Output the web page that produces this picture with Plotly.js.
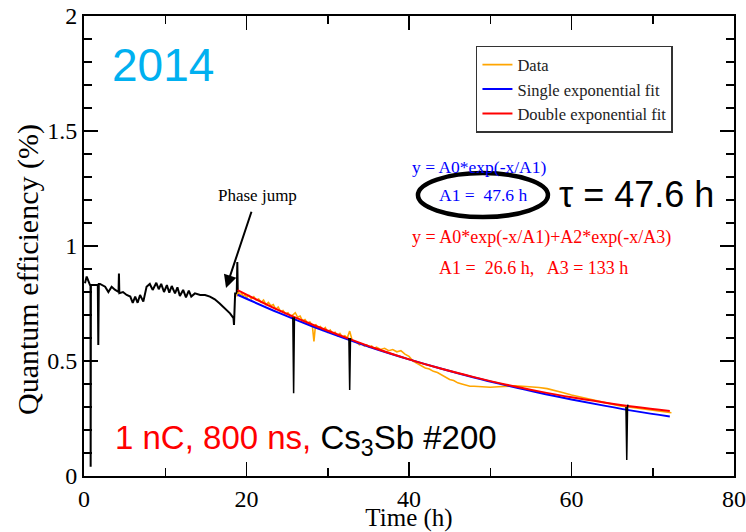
<!DOCTYPE html>
<html>
<head>
<meta charset="utf-8">
<script src="https://cdn.plot.ly/plotly-3.0.1.min.js"></script>
<style>html,body{margin:0;padding:0;background:#fff}#chart{width:746px;height:532px}</style>
</head>
<body>
<div id="chart"></div>
<script>
// Pre-jump data (black)
const preX = [0.12,0.33,0.74,0.8,0.82,0.85,1.15,1.7,1.76,1.82,1.97,2.6,3.0,3.4,3.8,4.25,4.3,4.35,4.8,5.25,5.7,6.0,6.3,6.6,6.9,7.3,7.7,8.1,8.45,8.9,9.2,9.5,9.85,10.2,10.5,10.8,11.2,11.5,11.8,12.2,12.55,12.9,13.2,13.65,14.3,14.9,15.5,16.1,16.7,17.35,17.97,18.4,18.46,18.6,18.8,18.87,18.93];
const preY = [0.838,0.867,0.83,0.83,0.04,0.83,0.83,0.83,0.57,0.835,0.835,0.823,0.80,0.823,0.81,0.80,0.88,0.795,0.80,0.787,0.78,0.753,0.78,0.753,0.787,0.758,0.823,0.835,0.809,0.84,0.812,0.835,0.80,0.83,0.797,0.826,0.794,0.82,0.783,0.809,0.777,0.806,0.78,0.794,0.787,0.787,0.78,0.768,0.75,0.729,0.707,0.686,0.657,0.794,0.794,0.93,0.79];

// Black dropout spikes during the fitted period
const spikeX = [25.7,25.8,25.9,null,32.6,32.7,32.8,null,66.7,66.8,66.9,66.95];
const spikeY = [0.69,0.36,0.69,null,0.60,0.374,0.60,null,0.30,0.07,0.30,0.31];

// Data (orange)
const dataX = [18.8,19.0,19.2,19.4,19.6,19.8,20.0,20.3,20.6,20.9,21.2,21.5,21.8,22.1,22.4,22.7,23.0,23.3,23.6,23.9,24.2,24.5,24.8,25.1,25.4,25.7,26.0,26.3,26.6,26.9,27.2,27.5,27.8,28.1,28.3,28.5,28.8,29.1,29.4,29.7,30.0,30.3,30.6,30.9,31.2,31.5,31.8,32.1,32.4,32.7,33.0,33.3,33.6,33.9,34.2,34.5,34.8,35.1,35.4,35.7,36.0,36.5,37.0,37.5,38.0,38.5,39.0,39.5,40.0,40.5,41.0,41.5,42.0,42.5,43.0,43.5,44.0,44.5,45.0,45.5,46.0,46.5,47.0,47.5,48.0,49,50,51,52,53,54,55,56,57,58,59,60,61,62,63,64,65,66,67,68,69,70,71,72.3];
const dataY = [0.78,0.80,0.785,0.795,0.78,0.79,0.775,0.785,0.77,0.78,0.765,0.77,0.755,0.765,0.745,0.755,0.74,0.745,0.725,0.735,0.715,0.72,0.705,0.71,0.695,0.70,0.71,0.69,0.695,0.675,0.68,0.665,0.67,0.655,0.585,0.66,0.645,0.65,0.635,0.645,0.625,0.635,0.62,0.625,0.61,0.62,0.605,0.61,0.60,0.63,0.59,0.585,0.58,0.57,0.575,0.565,0.57,0.56,0.565,0.555,0.56,0.55,0.555,0.545,0.55,0.54,0.545,0.53,0.52,0.50,0.49,0.48,0.47,0.465,0.455,0.45,0.44,0.43,0.42,0.415,0.405,0.40,0.395,0.39,0.39,0.387,0.386,0.388,0.39,0.392,0.39,0.388,0.385,0.38,0.372,0.362,0.352,0.345,0.336,0.328,0.32,0.312,0.305,0.30,0.295,0.29,0.284,0.279,0.275];

// Single exponential fit (blue)
const singleX = [18.9,24,28,32,36,40,44,48,52,56,60,64,68,72.1];
const singleY = [0.788,0.709,0.652,0.600,0.551,0.507,0.466,0.428,0.394,0.362,0.333,0.306,0.281,0.259];

// Double exponential fit (red)
const doubleX = [18.9,24,28,32,36,40,44,48,52,56,60,64,68,72.1];
const doubleY = [0.808,0.72,0.66,0.605,0.553,0.507,0.466,0.430,0.397,0.368,0.342,0.320,0.300,0.283];

const xTicks = [0,20,40,60,80];
const yTicks = [0,0.5,1,1.5,2];

const serif = "Liberation Serif, Times New Roman, serif";
const sans = "Liberation Sans, Arial, sans-serif";

const traces = [
  {x: preX, y: preY, mode:'lines', line:{color:'#000', width:2}, showlegend:false, hoverinfo:'skip'},
  {x: dataX, y: dataY, mode:'lines', name:'Data', line:{color:'#FFA500', width:1.6}},
  {x: singleX, y: singleY, mode:'lines', name:'Single exponential fit', line:{color:'#0000FF', width:2, shape:'spline'}},
  {x: doubleX, y: doubleY, mode:'lines', name:'Double exponential fit', line:{color:'#FF0000', width:2, shape:'spline'}},
  {x: spikeX, y: spikeY, mode:'lines', line:{color:'#000', width:1.5}, showlegend:false, hoverinfo:'skip', connectgaps:false}
];

const axisCommon = {
  showgrid:false, zeroline:false, showline:true, linecolor:'#000', linewidth:2,
  mirror:'allticks', ticks:'inside', ticklen:14, tickwidth:1.5, tickcolor:'#000',
  ticklabelstandoff:0, ticklabeloverflow:'allow',
  tickfont:{family:serif, size:24, color:'#000'}
};

const layout = {
  width:746, height:532,
  margin:{l:84, r:12, t:16, b:56},
  paper_bgcolor:'#fff', plot_bgcolor:'#fff',
  xaxis: Object.assign({}, axisCommon, {
    range:[0,80], tickvals:xTicks, ticktext:xTicks.map(String),
    minor:{ticks:'inside', ticklen:8, tickwidth:1.5, tickcolor:'#000', dtick:10},
    title:{text:'Time (h)', font:{family:serif, size:25, color:'#000'}, standoff:0}
  }),
  yaxis: Object.assign({}, axisCommon, {
    range:[0,2], tickvals:yTicks, ticktext:yTicks.map(String),
    minor:{ticks:'inside', ticklen:8, tickwidth:1.5, tickcolor:'#000', dtick:0.1},
    title:{text:''}
  }),
  legend:{x:0.603, y:0.935, xanchor:'left', yanchor:'top', bgcolor:'#fff',
    bordercolor:'#333', borderwidth:1.5, font:{family:serif, size:16.5, color:'#222'},
    tracegroupgap:0, itemwidth:30},
  shapes:[
    {type:'circle', xref:'x', yref:'y', x0:41.1, x1:57.1, y0:1.126, y1:1.317, line:{color:'#000', width:4.5}}
  ],
  annotations:[
    {xref:'paper', yref:'y', x:-0.086, y:0.896, xanchor:'center', yanchor:'middle', text:'Quantum efficiency (%)', textangle:-90, showarrow:false, font:{family:serif, size:30, color:'#000'}},
    {xref:'x', yref:'y', x:9.7, y:1.787, text:'2014', showarrow:false, font:{family:sans, size:46, color:'#00B0F0'}},
    {xref:'x', yref:'y', x:3.57, y:0.155, xanchor:'left', text:'<span style="color:#FF0000">1 nC, 800 ns,</span> Cs<sub>3</sub>Sb #200', showarrow:false, font:{family:sans, size:33, color:'#000'}},
    {xref:'x', yref:'y', x:58.2, y:1.222, xanchor:'left', text:'τ = 47.6 h', showarrow:false, font:{family:sans, size:36, color:'#000'}},
    {xref:'x', yref:'y', x:40.1, y:1.343, xanchor:'left', text:'y = A0*exp(-x/A1)', showarrow:false, font:{family:serif, size:17.5, color:'#0000FF'}},
    {xref:'x', yref:'y', x:43.4, y:1.222, xanchor:'left', text:'A1 =  47.6 h', showarrow:false, font:{family:serif, size:17.5, color:'#0000FF'}},
    {xref:'x', yref:'y', x:40.1, y:1.039, xanchor:'left', text:'y = A0*exp(-x/A1)+A2*exp(-x/A3)', showarrow:false, font:{family:serif, size:18, color:'#FF0000'}},
    {xref:'x', yref:'y', x:43.4, y:0.904, xanchor:'left', text:'A1 =  26.6 h,   A3 = 133 h', showarrow:false, font:{family:serif, size:18, color:'#FF0000'}},
    {xref:'x', yref:'y', x:17.48, y:0.817, ax:31, ay:-93, text:'Phase jump', showarrow:true,
      arrowhead:2, arrowsize:1.3, arrowwidth:2, arrowcolor:'#000', startstandoff:6, standoff:0,
      font:{family:serif, size:17, color:'#000'}}
  ]
};

Plotly.newPlot('chart', traces, layout, {staticPlot:true, displayModeBar:false});
</script>
</body>
</html>
